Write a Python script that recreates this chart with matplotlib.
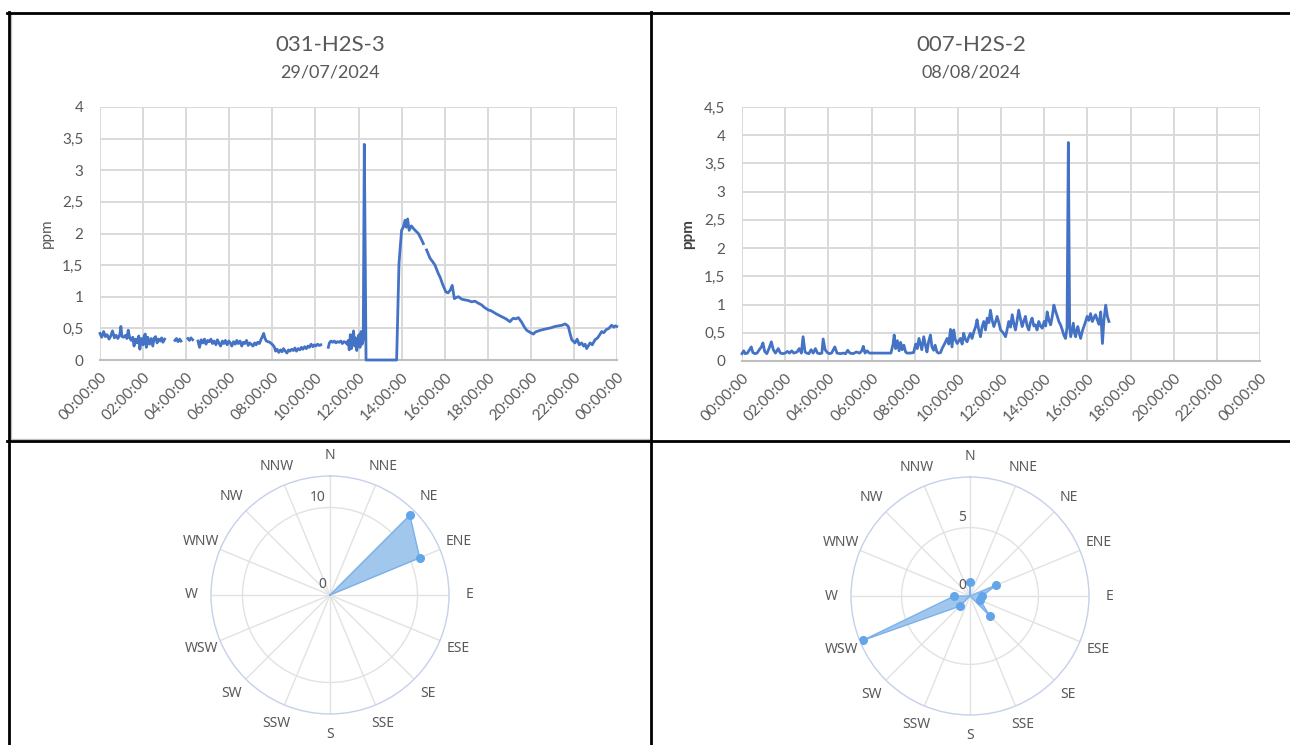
import numpy as np
import matplotlib
matplotlib.use('Agg')
import matplotlib.pyplot as plt
from matplotlib.lines import Line2D
from matplotlib.ticker import FuncFormatter

nan = float('nan')

# ---------------- data ----------------
titles = ['031-H2S-3', '007-H2S-2']
subtitles = ['29/07/2024', '08/08/2024']
y_label = 'ppm'

# sensor 031-H2S-3 (hours of day, ppm)
t1_hours = [
    0.00, 0.08, 0.17, 0.25, 0.33, 0.42, 0.50, 0.58, 0.67, 0.75, 0.83, 0.92, 0.97, 1.02,
    1.10, 1.18, 1.25, 1.31, 1.38, 1.45, 1.52, 1.58, 1.65, 1.72, 1.80, 1.85, 1.92, 2.00,
    2.05, 2.10, 2.15, 2.22, 2.30, 2.38, 2.45, 2.52, 2.58, 2.65, 2.72, 2.80, 2.86, 2.92,
    3.00, 3.05, 3.48, 3.55, 3.62, 3.70, 3.76, 3.80, 4.08, 4.15, 4.22, 4.30, 4.35, 4.55,
    4.62, 4.70, 4.78, 4.85, 4.92, 5.00, 5.08, 5.15, 5.22, 5.30, 5.38, 5.45, 5.52, 5.60,
    5.68, 5.75, 5.82, 5.90, 5.98, 6.05, 6.12, 6.20, 6.28, 6.35, 6.42, 6.50, 6.58, 6.65,
    6.72, 6.80, 6.88, 6.95, 7.02, 7.10, 7.18, 7.25, 7.32, 7.40, 7.48, 7.55, 7.60, 7.65,
    7.72, 7.80, 7.88, 7.95, 8.02, 8.10, 8.15, 8.22, 8.30, 8.38, 8.45, 8.52, 8.60, 8.68,
    8.75, 8.82, 8.90, 8.98, 9.05, 9.12, 9.20, 9.28, 9.35, 9.42, 9.50, 9.58, 9.65, 9.72,
    9.80, 9.88, 9.95, 10.02, 10.10, 10.18, 10.25, 10.30, 10.60, 10.65, 10.72, 10.80,
    10.88, 10.95, 11.02, 11.10, 11.18, 11.25, 11.32, 11.40, 11.47, 11.52, 11.57, 11.62,
    11.67, 11.72, 11.77, 11.82, 11.87, 11.92, 11.97, 12.02, 12.07, 12.12, 12.17, 12.22,
    12.27, 12.35, 13.00, 13.77, 13.88, 14.00, 14.08, 14.16, 14.22, 14.28, 14.35, 14.45,
    14.60, 14.78, 14.90, 15.01, 15.07, 15.16, 15.32, 15.45, 15.55, 15.70, 15.80, 15.89,
    16.05, 16.15, 16.25, 16.35, 16.45, 16.55, 16.64, 16.80, 16.95, 17.10, 17.25, 17.41,
    17.55, 17.72, 17.85, 18.03, 18.15, 18.34, 18.50, 18.65, 18.85, 19.03, 19.12, 19.19,
    19.30, 19.42, 19.57, 19.70, 19.81, 19.95, 20.12, 20.20, 20.35, 20.55, 20.81, 20.95,
    21.12, 21.30, 21.45, 21.59, 21.68, 21.74, 21.82, 21.90, 22.05, 22.15, 22.25, 22.36,
    22.45, 22.52, 22.59, 22.68, 22.75, 22.85, 22.98, 23.10, 23.20, 23.29, 23.38, 23.50,
    23.62, 23.75, 23.85, 23.92, 23.99,
]
ppm1 = [
    0.42, 0.36, 0.45, 0.37, 0.40, 0.33, 0.38, 0.46, 0.35, 0.39, 0.34, 0.40, 0.53, 0.37,
    0.36, 0.39, 0.34, 0.47, 0.35, 0.31, 0.36, 0.22, 0.33, 0.27, 0.38, 0.17, 0.34, 0.24,
    0.38, 0.41, 0.20, 0.36, 0.25, 0.34, 0.22, 0.35, 0.37, 0.27, 0.33, 0.30, 0.35, 0.28,
    0.33, nan, 0.31, 0.34, 0.29, 0.33, 0.30, nan, 0.34, 0.31, 0.35, 0.32, nan, 0.30,
    0.20, 0.32, 0.27, 0.33, 0.25, 0.31, 0.29, 0.33, 0.26, 0.30, 0.24, 0.32, 0.27, 0.22,
    0.30, 0.26, 0.31, 0.24, 0.30, 0.27, 0.22, 0.29, 0.25, 0.31, 0.26, 0.30, 0.22, 0.28,
    0.26, 0.31, 0.23, 0.27, 0.25, 0.22, 0.27, 0.24, 0.28, 0.26, 0.33, 0.38, 0.42, 0.35,
    0.30, 0.29, 0.28, 0.26, 0.24, 0.20, 0.14, 0.17, 0.12, 0.16, 0.13, 0.18, 0.14, 0.11,
    0.16, 0.14, 0.17, 0.15, 0.19, 0.14, 0.18, 0.16, 0.20, 0.17, 0.21, 0.18, 0.22, 0.20,
    0.25, 0.21, 0.24, 0.22, 0.25, 0.23, 0.24, nan, 0.20, 0.27, 0.30, 0.28,
    0.30, 0.27, 0.29, 0.28, 0.30, 0.26, 0.29, 0.28, 0.25, 0.31, 0.16, 0.40,
    0.18, 0.33, 0.46, 0.22, 0.35, 0.15, 0.30, 0.40, 0.20, 0.45, 0.25, 0.33,
    3.41, 0.00, 0.00, 0.00, 1.53, 2.05, 2.10, 2.21, 2.10, 2.23, 2.05, 2.12,
    2.06, 2.00, 1.92, 1.84, nan, 1.74, 1.61, 1.55, 1.50, 1.37, 1.30, 1.21,
    1.08, 1.06, 1.10, 1.18, 0.97, 0.99, 1.00, 0.96, 0.95, 0.94, 0.92, 0.93,
    0.90, 0.87, 0.83, 0.79, 0.78, 0.74, 0.71, 0.685, 0.65, 0.605, 0.64, 0.66,
    0.65, 0.67, 0.60, 0.52, 0.47, 0.44, 0.41, 0.44, 0.46, 0.48, 0.50, 0.51,
    0.53, 0.54, 0.55, 0.57, 0.55, 0.53, 0.42, 0.32, 0.27, 0.33, 0.24, 0.27,
    0.22, 0.25, 0.18, 0.23, 0.27, 0.24, 0.32, 0.35, 0.40, 0.45, 0.43, 0.48,
    0.50, 0.55, 0.52, 0.54, 0.53,
]

# sensor 007-H2S-2 (hours of day, ppm)
t2_hours = [
    0.00, 0.08, 0.15, 0.25, 0.35, 0.43, 0.50, 0.60, 0.70, 0.80, 0.90, 0.97, 1.05, 1.15,
    1.25, 1.36, 1.45, 1.55, 1.68, 1.78, 1.90, 2.00, 2.10, 2.20, 2.30, 2.40, 2.55, 2.65,
    2.75, 2.83, 2.92, 3.00, 3.10, 3.20, 3.30, 3.40, 3.50, 3.60, 3.70, 3.76, 3.85, 3.95,
    4.05, 4.15, 4.30, 4.40, 4.55, 4.70, 4.80, 4.90, 5.00, 5.15, 5.30, 5.45, 5.55, 5.62,
    5.70, 5.80, 5.90, 6.00, 6.50, 6.90, 7.00, 7.05, 7.12, 7.20, 7.28, 7.35, 7.42, 7.50,
    7.58, 7.65, 7.80, 7.95, 8.05, 8.12, 8.20, 8.26, 8.33, 8.42, 8.50, 8.57, 8.65, 8.73,
    8.80, 8.88, 8.95, 9.03, 9.11, 9.20, 9.27, 9.35, 9.42, 9.50, 9.58, 9.66, 9.73, 9.81,
    9.88, 9.97, 10.05, 10.12, 10.20, 10.27, 10.35, 10.43, 10.50, 10.58, 10.66, 10.74,
    10.82, 10.89, 10.97, 11.05, 11.12, 11.20, 11.28, 11.36, 11.44, 11.51, 11.59, 11.67,
    11.75, 11.82, 11.90, 11.98, 12.10, 12.21, 12.28, 12.36, 12.44, 12.52, 12.60, 12.67,
    12.75, 12.82, 12.90, 12.98, 13.05, 13.13, 13.21, 13.29, 13.36, 13.44, 13.52, 13.60,
    13.67, 13.75, 13.83, 13.91, 14.00, 14.07, 14.14, 14.22, 14.30, 14.38, 14.45, 14.53,
    14.61, 14.68, 14.76, 14.84, 14.92, 14.99, 15.06, 15.12, 15.18, 15.23, 15.29, 15.35,
    15.40, 15.46, 15.51, 15.56, 15.62, 15.69, 15.76, 15.84, 15.92, 15.99, 16.07, 16.15,
    16.23, 16.30, 16.38, 16.46, 16.54, 16.62, 16.70, 16.77, 16.85, 16.93, 17.00,
]
ppm2 = [
    0.13, 0.18, 0.13, 0.14, 0.20, 0.25, 0.15, 0.13, 0.14, 0.20, 0.25, 0.32, 0.17, 0.13,
    0.22, 0.34, 0.20, 0.14, 0.22, 0.14, 0.13, 0.14, 0.17, 0.14, 0.18, 0.14, 0.16, 0.22,
    0.14, 0.43, 0.16, 0.14, 0.13, 0.20, 0.14, 0.22, 0.14, 0.13, 0.14, 0.39, 0.20, 0.15,
    0.13, 0.14, 0.25, 0.14, 0.13, 0.14, 0.13, 0.19, 0.14, 0.13, 0.16, 0.14, 0.18, 0.26,
    0.14, 0.18, 0.14, 0.14, 0.14, 0.14, 0.30, 0.46, 0.22, 0.36, 0.18, 0.33, 0.20, 0.28,
    0.16, 0.14, 0.14, 0.15, 0.30, 0.22, 0.40, 0.31, 0.20, 0.43, 0.28, 0.16, 0.35, 0.46,
    0.25, 0.19, 0.28, 0.16, 0.14, 0.15, 0.22, 0.28, 0.33, 0.40, 0.30, 0.56, 0.25, 0.55,
    0.38, 0.31, 0.36, 0.40, 0.30, 0.49, 0.38, 0.34, 0.42, 0.49, 0.40, 0.52,
    0.60, 0.73, 0.55, 0.43, 0.60, 0.70, 0.55, 0.76, 0.68, 0.90, 0.72, 0.61,
    0.70, 0.79, 0.68, 0.55, 0.50, 0.43, 0.55, 0.70, 0.60, 0.82, 0.65, 0.55,
    0.72, 0.90, 0.75, 0.61, 0.70, 0.79, 0.62, 0.55, 0.68, 0.76, 0.62, 0.64,
    0.55, 0.70, 0.62, 0.58, 0.70, 0.62, 0.87, 0.72, 0.64, 0.80, 0.99, 0.88,
    0.79, 0.70, 0.64, 0.55, 0.45, 0.40, 0.60, 3.87, 0.60, 0.43, 0.55, 0.67,
    0.50, 0.43, 0.55, 0.61, 0.50, 0.40, 0.52, 0.61, 0.70, 0.79, 0.72, 0.84,
    0.70, 0.76, 0.82, 0.73, 0.65, 0.87, 0.31, 0.73, 0.99, 0.79, 0.70,
]

x_tick_hours = [0, 2, 4, 6, 8, 10, 12, 14, 16, 18, 20, 22, 24]
x_tick_labels = ['00:00:00', '02:00:00', '04:00:00', '06:00:00', '08:00:00',
                 '10:00:00', '12:00:00', '14:00:00', '16:00:00', '18:00:00',
                 '20:00:00', '22:00:00', '00:00:00']
y1_ticks = [0, 0.5, 1, 1.5, 2, 2.5, 3, 3.5, 4]
y2_ticks = [0, 0.5, 1, 1.5, 2, 2.5, 3, 3.5, 4, 4.5]

directions = ['N', 'NNE', 'NE', 'ENE', 'E', 'ESE', 'SE', 'SSE',
              'S', 'SSW', 'SW', 'WSW', 'W', 'WNW', 'NW', 'NNW']
wind1 = [0, 0, 12.9, 11.1, 0, 0, 0, 0, 0, 0, 0, 0, 0, 0, 0, 0]
wind2 = [1.0, 0, 0, 2.05, 0.9, 0.8, 2.05, 0, 0, 0, 1.05, 8.5, 1.15, 0, 0, 0]
wind1_rticks = [0, 10]
wind2_rticks = [0, 5]
wind1_rmax = 13.6
wind2_rmax = 8.7

# ---------------- style ----------------
W, H = 1290, 745
TXT = '#595959'
GRID = '#d9d9d9'
LINE = '#4472c4'
FONT = 'Lato'
RFONT = ['Noto Sans', 'DejaVu Sans']
plt.rcParams['font.family'] = [FONT, 'DejaVu Sans']

fig = plt.figure(figsize=(W / 100, H / 100), dpi=100)
fig.patch.set_facecolor('white')


def px_rect(x0, y0, x1, y1):
    return [x0 / W, 1 - y1 / H, (x1 - x0) / W, (y1 - y0) / H]


comma_fmt = FuncFormatter(lambda v, p: ('%g' % v).replace('.', ','))


def ts_axes(rect, t, v, yticks, bold_label):
    ax = fig.add_axes(rect)
    ax.plot(t, v, color=LINE, lw=2.0, solid_joinstyle='round', clip_on=False, zorder=4)
    ax.set_xlim(0, 24)
    ax.set_ylim(yticks[0], yticks[-1])
    ax.set_xticks(x_tick_hours)
    ax.set_xticklabels(x_tick_labels, rotation=45, ha='right',
                       rotation_mode='anchor', fontsize=11, color=TXT)
    ax.set_yticks(yticks)
    ax.yaxis.set_major_formatter(comma_fmt)
    ax.tick_params(axis='y', labelsize=11, colors=TXT, length=0, pad=12)
    ax.tick_params(axis='x', length=0, pad=7)
    ax.grid(True, color=GRID, lw=1.4)
    ax.set_axisbelow(True)
    for s in ['top', 'right', 'left']:
        ax.spines[s].set_visible(False)
    ax.spines['bottom'].set_color('#bfbfbf')
    ax.spines['bottom'].set_linewidth(1.5)
    ax.spines['bottom'].set_zorder(2)
    ax.set_ylabel(y_label, fontsize=11, color=TXT if not bold_label else '#404040',
                  fontweight='bold' if bold_label else 'normal')
    ax.yaxis.set_label_coords(-0.09, 0.5)
    return ax


ts_axes(px_rect(100, 107, 617, 360), t1_hours, ppm1, y1_ticks, False)
ts_axes(px_rect(742, 107, 1260, 361), t2_hours, ppm2, y2_ticks, True)

for cx, title, sub in [(330, titles[0], subtitles[0]), (971, titles[1], subtitles[1])]:
    fig.text(cx / W, 1 - 45 / H, title, ha='center', va='center', fontsize=16, color=TXT)
    fig.text(cx / W, 1 - 72 / H, sub, ha='center', va='center', fontsize=13, color=TXT)


def radar(cx, cy, R, vals, rticks, rmax):
    ax = fig.add_axes(px_rect(cx - R, cy - R, cx + R, cy + R), projection='polar')
    ax.set_theta_zero_location('N')
    ax.set_theta_direction(-1)
    theta = np.deg2rad(np.arange(len(directions)) * 360.0 / len(directions))
    vals = np.asarray(vals, dtype=float)
    th_c = np.append(theta, theta[0])
    v_c = np.append(vals, vals[0])
    ax.fill(th_c, v_c, color='#9cc4ed', alpha=0.95, zorder=3, lw=0)
    ax.plot(th_c, v_c, color='#7ab1ea', lw=1.0, zorder=4)
    m = vals > 0
    ax.plot(theta[m], vals[m], 'o', color='#62a6e9', ms=5.5, zorder=5)
    ax.set_ylim(0, rmax)
    ax.set_yticks(rticks)
    ax.set_yticklabels([])
    for r in rticks:
        ax.annotate(str(r), xy=(0, r), xytext=(-3, 2), textcoords='offset points',
                    ha='right', va='bottom', fontsize=10, color=TXT, family=RFONT,
                    zorder=6)
    ax.set_xticks(theta)
    ax.set_xticklabels(directions, fontsize=10, color=TXT, family=RFONT)
    ax.tick_params(axis='x', pad=4)
    ax.xaxis.grid(True, color='#e2e2e2', lw=1.0)
    ax.yaxis.grid(True, color='#e2e2e2', lw=1.0)
    ax.spines['polar'].set_color('#c5d0ea')
    ax.spines['polar'].set_linewidth(1.0)
    ax.set_facecolor('white')
    return ax


radar(330, 595, 119, wind1, wind1_rticks, wind1_rmax)
radar(970, 596, 119, wind2, wind2_rticks, wind2_rmax)

# panel borders
def hline(y, x0, x1, color='black', lw=2.0):
    fig.add_artist(Line2D([x0 / W, x1 / W], [1 - y / H, 1 - y / H], color=color, lw=lw))


def vline(x, y0, y1, color='black', lw=2.0):
    fig.add_artist(Line2D([x / W, x / W], [1 - y0 / H, 1 - y1 / H], color=color, lw=lw))


vline(11, 14, 439, color='#bfbfbf', lw=0.9)
hline(439, 11, 650, color='#bfbfbf', lw=0.9)
hline(13, 7, W)
hline(441, 7, W)
vline(8.5, 12, H)
vline(651, 12, H)

fig.savefig('out.png', dpi=100, facecolor='white')
